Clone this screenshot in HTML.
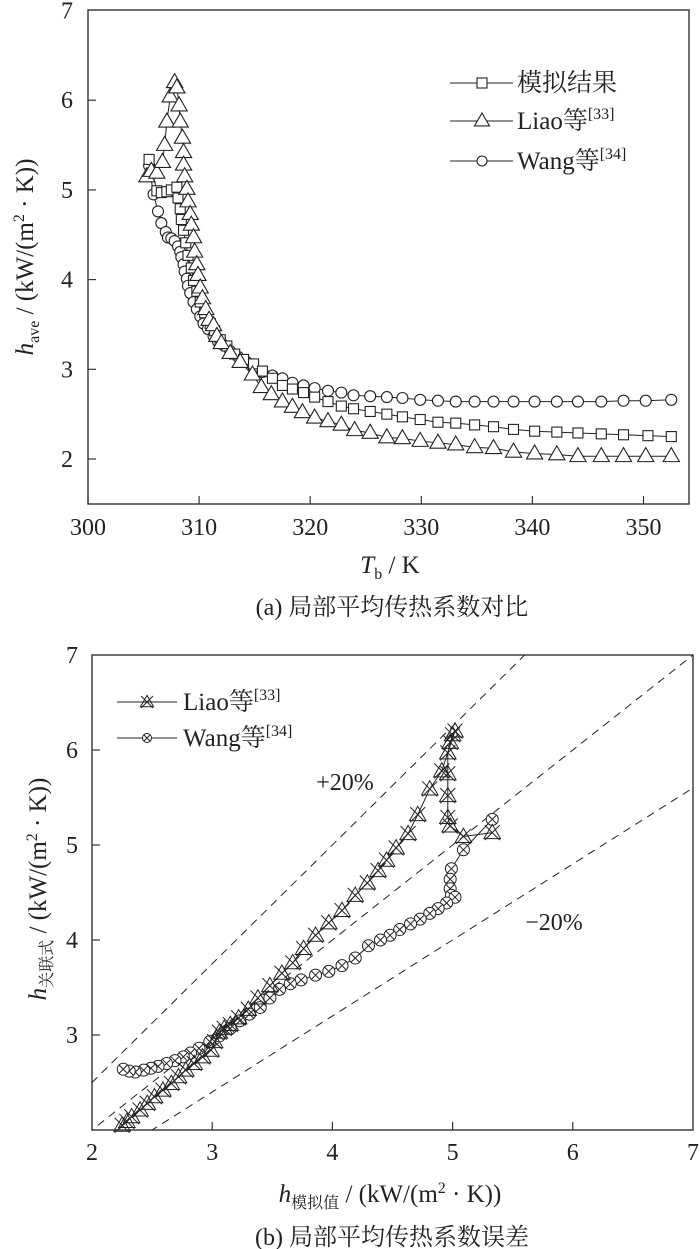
<!DOCTYPE html>
<html><head><meta charset="utf-8">
<style>
html,body{margin:0;padding:0;background:#fff;}
svg{display:block;}
svg text{font-family:"Liberation Serif","Noto Serif CJK SC",serif;}
</style></head>
<body>
<svg id="fig" width="700" height="1249" viewBox="0 0 700 1249" xmlns="http://www.w3.org/2000/svg" font-family="'Liberation Serif','Noto Serif CJK SC',serif">
<g id="chartA"></g>
<g id="chartB"></g>
</svg>
<script>
// ---------- Chart (a) data ----------
const simT = [305.5,306.2,306.6,307.1,307.5,308.0,308.1,308.3,308.4,308.6,308.8,309.0,309.3,309.5,309.8,310.1,310.5,311.0,311.4,311.9,312.5,313.2,314.0,314.9,315.7,316.6,317.5,318.4,319.4,320.4,321.6,322.8,323.9,325.4,326.9,328.3,329.9,331.5,333.1,334.8,336.5,338.3,340.2,342.2,344.1,346.2,348.2,350.4,352.5];
const simH = [5.34,4.99,4.97,4.98,5.00,5.03,4.91,4.79,4.67,4.55,4.41,4.27,4.13,3.99,3.87,3.75,3.63,3.51,3.43,3.33,3.26,3.17,3.11,3.06,2.98,2.90,2.82,2.78,2.74,2.69,2.64,2.59,2.56,2.53,2.50,2.47,2.44,2.41,2.40,2.38,2.36,2.33,2.31,2.30,2.29,2.28,2.27,2.26,2.25];
const liaoT = [305.3,305.7,306.2,306.7,306.9,307.1,307.4,307.8,308.0,308.2,308.3,308.5,308.6,308.6,308.7,308.9,309.0,309.2,309.3,309.5,309.6,309.8,309.9,310.1,310.3,310.6,310.9,311.3,311.6,312.0,312.8,313.7,314.8,315.6,316.5,317.5,318.4,319.3,320.4,321.6,322.8,324.0,325.4,326.9,328.3,329.9,331.5,333.1,334.8,336.5,338.3,340.2,342.2,344.1,346.2,348.2,350.2,352.5];
const liaoH = [5.15,5.21,5.19,5.31,5.50,5.76,6.04,6.20,6.14,5.94,5.76,5.58,5.42,5.28,5.15,5.01,4.87,4.73,4.61,4.47,4.31,4.17,4.05,3.91,3.79,3.67,3.55,3.49,3.37,3.29,3.18,3.08,2.94,2.80,2.72,2.64,2.58,2.52,2.46,2.42,2.38,2.32,2.29,2.24,2.23,2.20,2.18,2.16,2.13,2.12,2.08,2.06,2.05,2.03,2.03,2.03,2.03,2.03];
const wangT = [305.5,305.9,306.3,306.6,307.0,307.2,307.5,307.8,308.1,308.3,308.4,308.6,308.7,308.9,309.0,309.2,309.5,309.8,310.1,310.4,310.8,311.3,311.7,312.2,312.8,313.5,314.3,314.9,315.7,316.6,317.5,318.4,319.4,320.4,321.6,322.8,323.9,325.4,326.9,328.3,329.9,331.5,333.1,334.8,336.5,338.3,340.2,342.2,344.1,346.2,348.2,350.2,352.5];
const wangH = [5.27,4.95,4.76,4.63,4.53,4.47,4.46,4.43,4.37,4.31,4.25,4.17,4.09,4.01,3.93,3.85,3.75,3.67,3.59,3.51,3.45,3.37,3.31,3.27,3.20,3.14,3.08,3.02,2.97,2.93,2.90,2.85,2.82,2.79,2.76,2.74,2.71,2.70,2.69,2.68,2.66,2.65,2.64,2.64,2.64,2.64,2.64,2.64,2.64,2.64,2.65,2.65,2.66];
const aXTicks = [300,310,320,330,340,350];
const aYTicks = [2,3,4,5,6,7];

// ---------- Chart (b) data ----------
const liaoBX = [5.33,5.09,4.98,4.96,4.96,4.96,4.96,4.98,5.00,5.02,4.91,4.81,4.71,4.63,4.53,4.45,4.38,4.29,4.19,4.08,3.97,3.86,3.76,3.67,3.58,3.48,3.38,3.30,3.22,3.15,3.10,3.06,3.02,2.99,2.92,2.85,2.78,2.72,2.66,2.59,2.52,2.46,2.40,2.33,2.29,2.25];
const liaoBY = [5.13,5.09,5.20,5.29,5.52,5.75,5.97,6.08,6.16,6.20,5.78,5.59,5.32,5.12,4.97,4.84,4.73,4.60,4.47,4.31,4.18,4.05,3.91,3.76,3.65,3.52,3.39,3.27,3.18,3.11,3.07,3.03,2.93,2.84,2.77,2.70,2.63,2.56,2.49,2.42,2.35,2.28,2.21,2.14,2.09,2.05];
const wangBX = [5.33,5.09,4.99,4.98,4.98,4.99,5.02,4.95,4.88,4.81,4.73,4.65,4.56,4.48,4.40,4.30,4.19,4.08,3.97,3.86,3.74,3.65,3.56,3.48,3.40,3.31,3.23,3.15,3.06,2.98,2.89,2.82,2.76,2.69,2.62,2.55,2.49,2.43,2.36,2.31,2.26];
const wangBY = [5.27,4.95,4.75,4.64,4.54,4.47,4.45,4.39,4.33,4.28,4.22,4.17,4.11,4.05,4.00,3.94,3.81,3.73,3.67,3.63,3.58,3.54,3.48,3.39,3.29,3.22,3.15,3.07,2.99,2.93,2.86,2.81,2.77,2.73,2.70,2.67,2.65,2.63,2.61,2.62,2.64];
const bTicks = [2,3,4,5,6,7];
const bandFactors = [1.25,1,0.8];

const NS = "http://www.w3.org/2000/svg";
const FF = "'Liberation Serif','Noto Serif CJK SC',serif";
function mk(parent, tag, attrs){ const e=document.createElementNS(NS,tag); for(const k in attrs) e.setAttribute(k,attrs[k]); if(tag==='text') e.setAttribute('font-family',FF); parent.appendChild(e); return e; }

// ===== Chart A =====
const A = document.getElementById('chartA');
const ax = v => 88 + (v-300)*11.11;
const ay = v => 459 - (v-2)*89.7;
let fr = mk(A,'rect',{x:88,y:10,width:601,height:494,fill:'none',stroke:'#333','stroke-width':1.4});
 
aXTicks.forEach(t=>{
  const l=mk(A,'line',{x1:ax(t),x2:ax(t),y1:504,y2:496,stroke:'#333','stroke-width':1.2});
   
  const tx=mk(A,'text',{x:ax(t),y:535,'font-size':24,'text-anchor':'middle',fill:'#222'});
   
  tx.textContent=t;
});
aYTicks.forEach(t=>{
  if(t<7){const l=mk(A,'line',{x1:88,x2:96,y1:ay(t),y2:ay(t),stroke:'#333','stroke-width':1.2});
   }
  const tx=mk(A,'text',{x:67,y:ay(t)+8,'font-size':24,'text-anchor':'middle',fill:'#222'});
   
  tx.textContent=t;
});
function marker(g, type, x, y, s){
  let e;
  if(type==='sq') e=mk(g,'rect',{x:x-s/2,y:y-s/2,width:s,height:s,fill:'#fff',stroke:'#222','stroke-width':1.1});
  else if(type==='tri') e=mk(g,'polygon',{points:`${x},${y-s*0.62} ${x-s*0.58},${y+s*0.38} ${x+s*0.58},${y+s*0.38}`,fill:'#fff',stroke:'#222','stroke-width':1.1});
  else if(type==='circ') e=mk(g,'circle',{cx:x,cy:y,r:s/2,fill:'#fff',stroke:'#222','stroke-width':1.1});
  else if(type==='trix'){
    e=mk(g,'g',{});
    mk(e,'polygon',{points:`${x},${y-s*0.55} ${x-s*0.55},${y+s*0.4} ${x+s*0.55},${y+s*0.4}`,fill:'none',stroke:'#222','stroke-width':1});
    mk(e,'path',{d:`M${x-s*0.5},${y-s*0.5}L${x+s*0.5},${y+s*0.5}M${x+s*0.5},${y-s*0.5}L${x-s*0.5},${y+s*0.5}`,stroke:'#222','stroke-width':1});
  } else if(type==='cx'){
    e=mk(g,'g',{});
    mk(e,'circle',{cx:x,cy:y,r:s/2,fill:'#fff',stroke:'#222','stroke-width':1});
    const d=s*0.35;
    mk(e,'path',{d:`M${x-d},${y-d}L${x+d},${y+d}M${x+d},${y-d}L${x-d},${y+d}`,stroke:'#222','stroke-width':1});
  }
  return e;
}
function series(parent, xs, ys, fx, fy, type, s, name){
  const g=mk(parent,'g',{});
   
  const pl=mk(g,'polyline',{points:xs.map((v,i)=>fx(v)+','+fy(ys[i])).join(' '),fill:'none',stroke:'#222','stroke-width':1});
   
  xs.forEach((v,i)=>{
    const m=marker(g,type,fx(v),fy(ys[i]),s);
     
  });
}
series(A, wangT, wangH, ax, ay, 'circ', 11, 'wang-series-a');
series(A, simT, simH, ax, ay, 'sq', 10, 'sim-series-a');
series(A, liaoT, liaoH, ax, ay, 'tri', 14, 'liao-series-a');
const legA=[['sq','模拟结果',null,83],['tri','Liao等','[33]',121],['circ','Wang等','[34]',161]];
legA.forEach(([t,lab,sup,y])=>{
  const g=mk(A,'g',{});  
  mk(g,'line',{x1:450,x2:513,y1:y,y2:y,stroke:'#222','stroke-width':1});
  marker(g,t,482,y,t==='tri'?13:10);
  const tx=mk(g,'text',{x:517,y:y+8,'font-size':25,fill:'#222'});
  tx.textContent=lab;
  if(sup){const ts=mk(tx,'tspan',{'font-size':16,dy:-10}); ts.textContent=sup;}
});
let t1=mk(A,'text',{transform:'translate(33,257) rotate(-90)','font-size':25,'text-anchor':'middle',fill:'#222'});
 
t1.innerHTML='<tspan font-style="italic">h</tspan><tspan font-size="16" dy="6">ave</tspan><tspan dy="-6"> / (kW/(m</tspan><tspan font-size="16" dy="-9">2</tspan><tspan dy="9"> · K))</tspan>';
let t2=mk(A,'text',{x:390,y:573,'font-size':25,'text-anchor':'middle',fill:'#222'});
 
t2.innerHTML='<tspan font-style="italic">T</tspan><tspan font-size="16" dy="6">b</tspan><tspan dy="-6"> / K</tspan>';
let c1=mk(A,'text',{x:392,y:615,'font-size':24,'text-anchor':'middle',fill:'#222'});
 
c1.textContent='(a) 局部平均传热系数对比';

// ===== Chart B =====
const B=document.getElementById('chartB');
const bx = v => 92 + (v-2)*120.2;
const by = v => 1130 - (v-2)*95;
const defs=mk(B,'defs',{});
const cp=mk(defs,'clipPath',{id:'clipB'}); mk(cp,'rect',{x:92,y:655,width:601,height:475});
let fr2=mk(B,'rect',{x:92,y:655,width:601,height:475,fill:'none',stroke:'#333','stroke-width':1.4});
 
const gl=mk(B,'g',{'clip-path':'url(#clipB)'});
bandFactors.forEach(f=>{
  const l=mk(gl,'line',{x1:bx(1.5),y1:by(1.5*f),x2:bx(7.5),y2:by(7.5*f),stroke:'#222','stroke-width':1,'stroke-dasharray':'8,6'});
   
});
bTicks.forEach(t=>{
  if(t>2&&t<7){
    const l=mk(B,'line',{x1:bx(t),x2:bx(t),y1:1130,y2:1122,stroke:'#333','stroke-width':1.2});
     
    const l2=mk(B,'line',{x1:92,x2:100,y1:by(t),y2:by(t),stroke:'#333','stroke-width':1.2});
     
  }
  const tx=mk(B,'text',{x:bx(t),y:1160,'font-size':24,'text-anchor':'middle',fill:'#222'});
   
  tx.textContent=t;
  if(t>2){const ty=mk(B,'text',{x:72,y:by(t)+8,'font-size':24,'text-anchor':'middle',fill:'#222'});
   
  ty.textContent=t;}
});
series(B, wangBX, wangBY, bx, by, 'cx', 12, 'wang-series-b');
series(B, liaoBX, liaoBY, bx, by, 'trix', 15, 'liao-series-b');
let p20=mk(B,'text',{x:345,y:790,'font-size':24,'text-anchor':'middle',fill:'#222'});
  p20.textContent='+20%';
let m20=mk(B,'text',{x:554,y:930,'font-size':24,'text-anchor':'middle',fill:'#222'});
  m20.textContent='−20%';
const legB=[['trix','Liao等','[33]',702],['cx','Wang等','[34]',738]];
legB.forEach(([t,lab,sup,y])=>{
  const g=mk(B,'g',{});  
  mk(g,'line',{x1:117,x2:177,y1:y,y2:y,stroke:'#222','stroke-width':1});
  marker(g,t,147,y,t==='trix'?12:9);
  const tx=mk(g,'text',{x:183,y:y+8,'font-size':25,fill:'#222'});
  tx.textContent=lab;
  const ts=mk(tx,'tspan',{'font-size':16,dy:-10}); ts.textContent=sup;
});
let t3=mk(B,'text',{transform:'translate(46,889) rotate(-90)','font-size':25,'text-anchor':'middle',fill:'#222'});
 
t3.innerHTML='<tspan font-style="italic">h</tspan><tspan font-size="16" dy="6">关联式</tspan><tspan dy="-6"> / (kW/(m</tspan><tspan font-size="16" dy="-9">2</tspan><tspan dy="9"> · K))</tspan>';
let t4=mk(B,'text',{x:390,y:1202,'font-size':25,'text-anchor':'middle',fill:'#222'});
 
t4.innerHTML='<tspan font-style="italic">h</tspan><tspan font-size="16" dy="6">模拟值</tspan><tspan dy="-6"> / (kW/(m</tspan><tspan font-size="16" dy="-9">2</tspan><tspan dy="9"> · K))</tspan>';
let c2=mk(B,'text',{x:392,y:1245,'font-size':24,'text-anchor':'middle',fill:'#222'});
 
c2.textContent='(b) 局部平均传热系数误差';
</script>
</body></html>
